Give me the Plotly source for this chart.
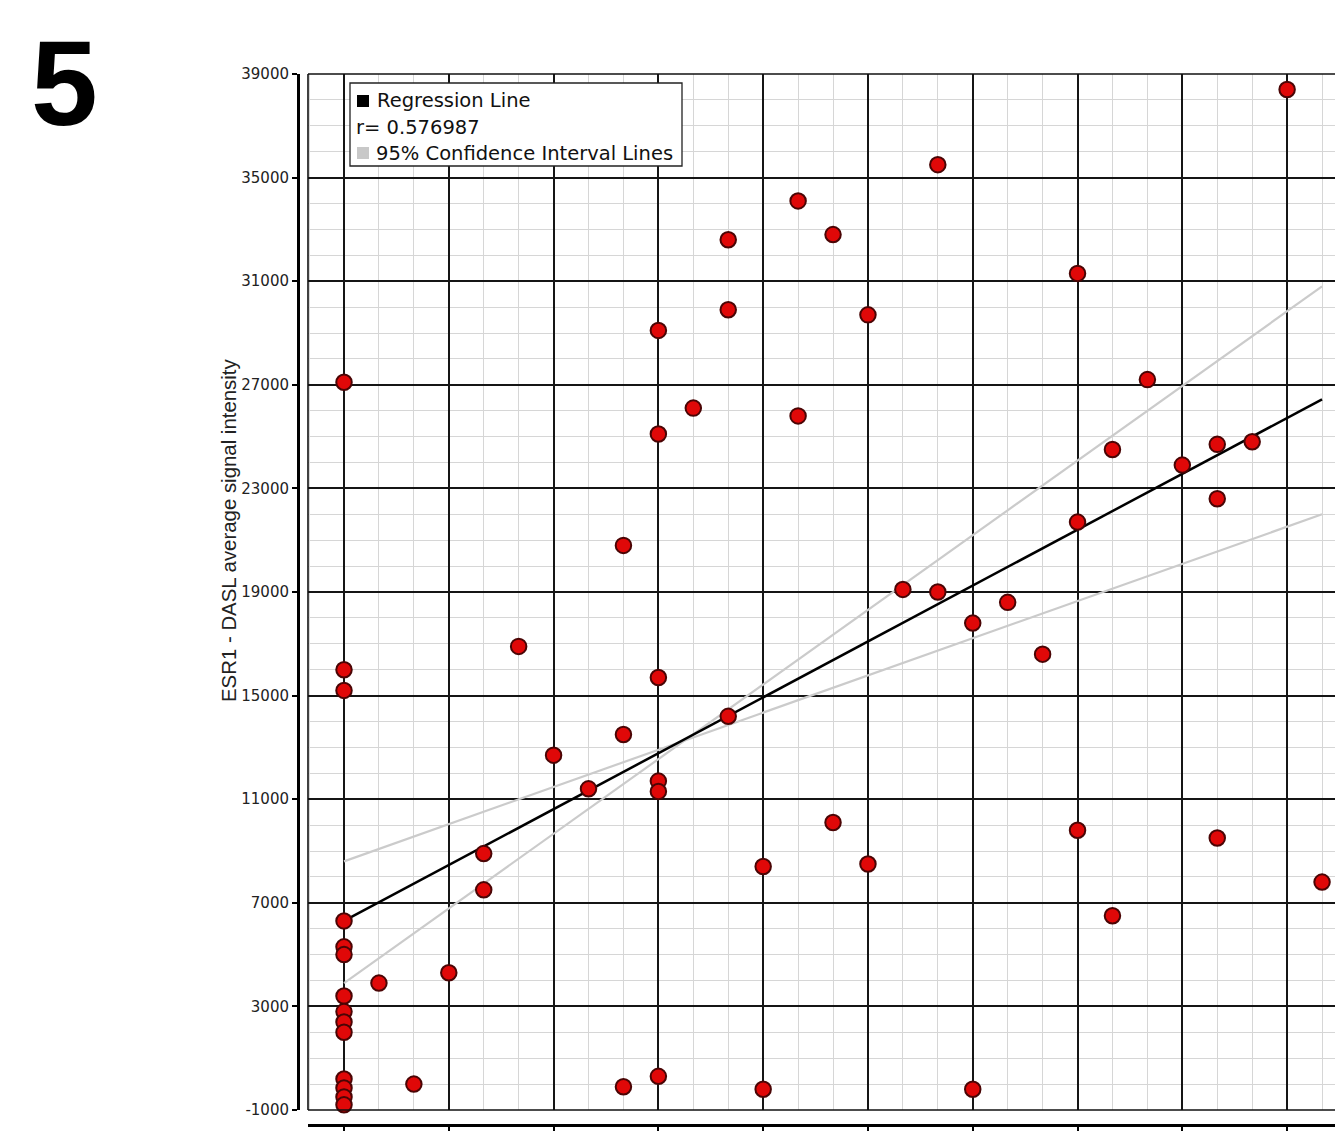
import plotly.graph_objects as go

# ---------------- data ----------------
x_vals = [0]*14 + [1, 2, 3, 4, 4, 5, 6, 7, 8, 8, 8,
                   9, 9, 9, 9, 9, 9, 10, 11, 11, 11, 12, 12, 13, 13, 14, 14, 15, 15,
                   16, 17, 17, 18, 18, 19, 20, 21, 21, 21, 22, 22, 23, 24, 25, 25, 25,
                   26, 27, 28]
y_vals = [27100, 16000, 15200, 6300, 5300, 5000, 3400, 2800, 2400, 2000, 200, -150, -500, -800,
          3900, 0, 4300, 7500, 8900, 16900, 12700, 11400, 20800, 13500, -100,
          29100, 25100, 15700, 11700, 11300, 300, 26100, 32600, 29900, 14200, 8400, -200,
          34100, 25800, 32800, 10100, 29700, 8500,
          19100, 35500, 19000, 17800, -200, 18600, 16600, 31300, 21700, 9800, 24500, 6500,
          27200, 23900, 24700, 22600, 9500, 24800, 38400, 7800]

reg_x = [0, 28]
reg_y = [6300, 26440]
ci_low_slope_x = [0, 28]
ci_low_slope_y = [8600, 22000]
ci_high_slope_x = [0, 28]
ci_high_slope_y = [3900, 30800]

y_ticks = list(range(-1000, 39001, 4000))
x_ticks = list(range(0, 28, 3))
r_value = "0.576987"

# ---------------- layout helpers ----------------
# the page body adds an 8px offset; positions below are given in screen pixels
OFF = 8
W, H = 1343 - OFF, 1143 - OFF
ML, MR, MT, MB = 298 - OFF, 0, 74 - OFF, 18
PW = W - ML - MR
PH = H - MT - MB


def px(x):
    return (x - OFF - ML) / PW


def py(y):
    return (H - MB - (y - OFF)) / PH


UNIT = 34.93  # screen pixels per x unit
x_left = (308 - 344) / UNIT
x_right = x_left + (1343 - 308) / UNIT

fig = go.Figure()

fig.add_trace(go.Scatter(x=ci_low_slope_x, y=ci_low_slope_y, mode="lines",
                         line=dict(color="#cbcbcb", width=2.2), hoverinfo="skip"))
fig.add_trace(go.Scatter(x=ci_high_slope_x, y=ci_high_slope_y, mode="lines",
                         line=dict(color="#cbcbcb", width=2.2), hoverinfo="skip"))
fig.add_trace(go.Scatter(x=reg_x, y=reg_y, mode="lines",
                         line=dict(color="#000000", width=2.5), hoverinfo="skip"))
fig.add_trace(go.Scatter(x=x_vals, y=y_vals, mode="markers", cliponaxis=False,
                         marker=dict(size=15.5, color="#e00808",
                                     line=dict(color="#4a0505", width=2))))

fig.update_layout(
    width=W, height=H,
    margin=dict(l=ML, r=MR, t=MT, b=MB, pad=0, autoexpand=False),
    paper_bgcolor="white", plot_bgcolor="white",
    showlegend=False,
    font=dict(family="DejaVu Sans", color="#222"),
    xaxis=dict(
        domain=[px(308), 1], anchor="free", position=0,
        range=[x_left, x_right], automargin=False,
        tickmode="array", tickvals=x_ticks, ticktext=[str(v) for v in x_ticks],
        showgrid=True, gridcolor="#151515", gridwidth=1.6,
        minor=dict(dtick=1, tick0=0, showgrid=True, gridcolor="#d6d6d6", gridwidth=1.4),
        showline=True, linecolor="#000", linewidth=3,
        ticks="outside", ticklen=4, tickwidth=2, tickcolor="#000",
        tickfont=dict(size=14, color="#888"), ticklabelstandoff=5,
        zeroline=False,
    ),
    yaxis=dict(
        domain=[py(1110), 1], anchor="free", position=0,
        range=[-1000, 39000], automargin=False,
        tickmode="array", tickvals=y_ticks, ticktext=[str(v) for v in y_ticks],
        showgrid=True, gridcolor="#151515", gridwidth=1.6,
        minor=dict(dtick=1000, tick0=-1000, showgrid=True, gridcolor="#d6d6d6", gridwidth=1.4),
        showline=True, linecolor="#000", linewidth=3,
        ticks="outside", ticklen=5, tickwidth=2, tickcolor="#000",
        tickfont=dict(size=15, color="#222"),
        zeroline=False,
    ),
)

shapes = [
    # plot frame (left, top, bottom)
    dict(type="line", xref="x domain", yref="y domain", x0=0, x1=0, y0=0, y1=1,
         line=dict(color="#111", width=1.6)),
    dict(type="line", xref="x domain", yref="y domain", x0=0, x1=1, y0=1, y1=1,
         line=dict(color="#111", width=1.6)),
    dict(type="line", xref="x domain", yref="y domain", x0=0, x1=1, y0=0, y1=0,
         line=dict(color="#111", width=1.6)),
    # legend box
    dict(type="rect", xref="paper", yref="paper", x0=px(350), x1=px(682), y0=py(166), y1=py(83),
         line=dict(color="#222", width=1.3), fillcolor="white", layer="above"),
    dict(type="rect", xref="paper", yref="paper", x0=px(357), x1=px(369), y0=py(107), y1=py(95),
         line=dict(width=0), fillcolor="#000", layer="above"),
    dict(type="rect", xref="paper", yref="paper", x0=px(357), x1=px(369), y0=py(159), y1=py(147),
         line=dict(width=0), fillcolor="#c8c8c8", layer="above"),
]
fig.update_layout(shapes=shapes)

annotations = [
    dict(text="Regression Line", x=px(375), y=py(101), xref="paper", yref="paper",
         xanchor="left", yanchor="middle", showarrow=False,
         font=dict(family="DejaVu Sans", size=19.5, color="#111")),
    dict(text="r= " + r_value, x=px(354), y=py(127), xref="paper", yref="paper",
         xanchor="left", yanchor="middle", showarrow=False,
         font=dict(family="DejaVu Sans", size=19.5, color="#111")),
    dict(text="95% Confidence Interval Lines", x=px(374), y=py(153), xref="paper", yref="paper",
         xanchor="left", yanchor="middle", showarrow=False,
         font=dict(family="DejaVu Sans", size=19.5, color="#111")),
    dict(text="ESR1 - DASL average signal intensity", x=px(229), y=py(531),
         xref="paper", yref="paper", xanchor="center", yanchor="middle",
         textangle=-90, showarrow=False,
         font=dict(family="Liberation Sans", size=20.4, color="#222")),
    dict(text="<b>5</b>", x=px(64), y=py(83), xref="paper", yref="paper",
         xanchor="center", yanchor="middle", showarrow=False,
         font=dict(family="Liberation Sans", size=120, color="#000")),
]
fig.update_layout(annotations=annotations)

fig.write_html("out.html")
